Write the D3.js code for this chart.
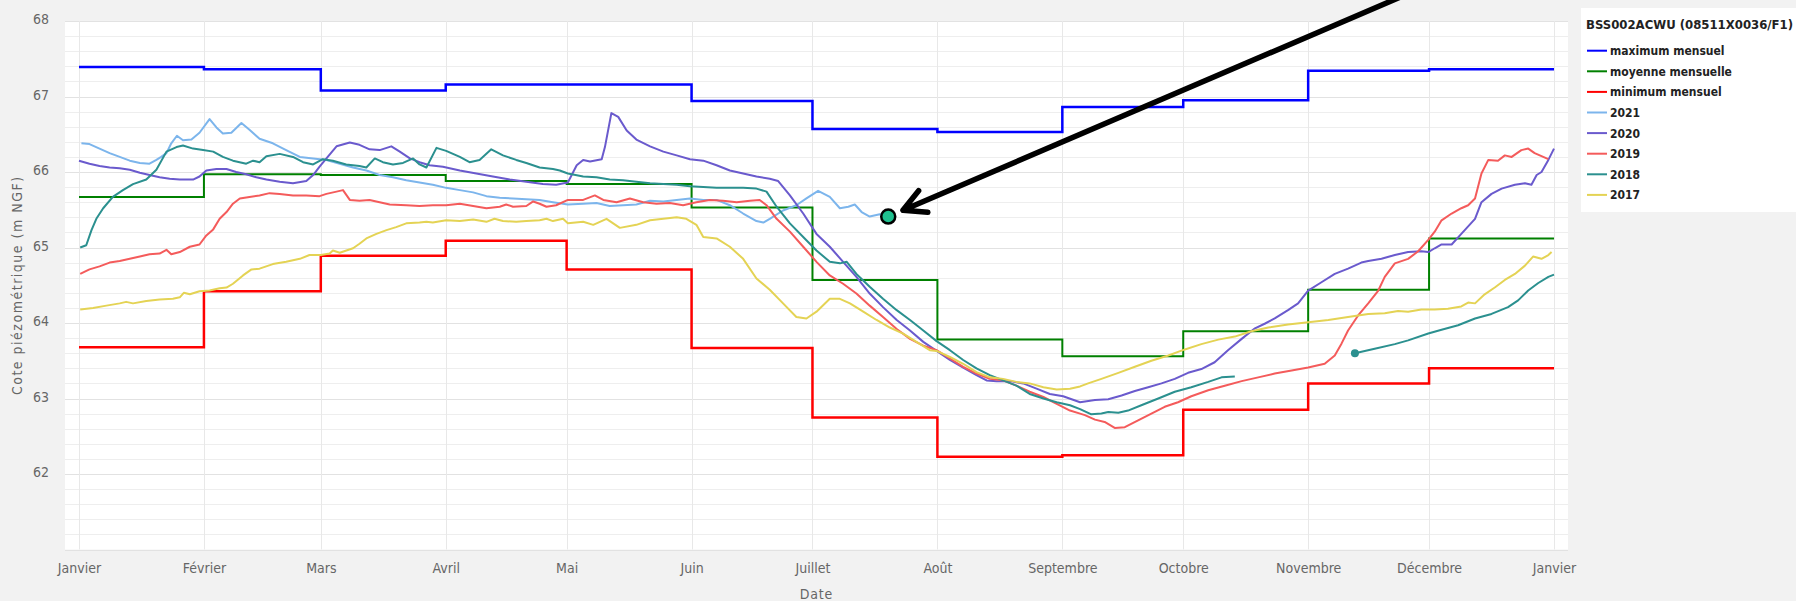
<!DOCTYPE html>
<html>
<head>
<meta charset="utf-8">
<script src="https://cdn.jsdelivr.net/npm/d3@7"></script>
<style>
  body { margin: 0; background: #f2f2f2; }
  svg { display: block; }
  .lbl { font-family: "Liberation Sans Narrow", "DejaVu Sans Condensed", sans-serif; font-size: 14px; fill: #666; }
  .leg { font-family: "DejaVu Sans Condensed", "DejaVu Sans", sans-serif; font-weight: bold; fill: #222; }
</style>
</head>
<body>
<svg id="chart" width="1796" height="601"></svg>
<script>
// month ticks (day of year, leap year)
const monthLabels = ["Janvier","Février","Mars","Avril","Mai","Juin","Juillet","Août","Septembre","Octobre","Novembre","Décembre","Janvier"];
const monthStarts = [0,31,60,91,121,152,182,213,244,274,305,335,366];
const yTicks = [62,63,64,65,66,67,68];

// monthly statistics, one value per month
const maxMensuel  = [67.39,67.36,67.08,67.16,67.16,66.94,66.57,66.53,66.86,66.95,67.34,67.36];
const moyMensuelle = [65.67,65.97,65.96,65.88,65.84,65.53,64.57,63.78,63.56,63.89,64.44,65.12];
const minMensuel  = [63.68,64.42,64.89,65.09,64.71,63.67,62.75,62.23,62.25,62.85,63.20,63.40];

// daily curves: [day of year, level]
const s2021 = [[0.6,66.38],[2.6,66.37],[5.1,66.31],[7.6,66.25],[10.1,66.20],[12.6,66.15],[15.1,66.12],[17.5,66.11],[19.2,66.16],[20.4,66.20],[21.7,66.25],[22.9,66.38],[24.3,66.48],[25.8,66.42],[27.9,66.43],[29.9,66.52],[32.4,66.70],[34.1,66.59],[35.7,66.51],[37.8,66.52],[40.3,66.65],[42.3,66.56],[44.8,66.44],[48.1,66.38],[51.4,66.29],[54.8,66.20],[58.1,66.18],[61.4,66.16],[64.7,66.11],[68.0,66.06],[71.3,66.02],[74.6,65.96],[77.9,65.93],[81.2,65.89],[84.5,65.86],[87.8,65.83],[91.1,65.79],[94.5,65.76],[97.8,65.73],[101.1,65.68],[104.4,65.66],[107.7,65.65],[111.0,65.64],[114.3,65.63],[117.6,65.60],[121.3,65.57],[125.1,65.58],[128.4,65.59],[131.7,65.55],[135.0,65.56],[138.3,65.57],[141.7,65.62],[145.0,65.61],[148.3,65.63],[151.6,65.65],[154.9,65.63],[158.2,65.63],[161.5,65.56],[164.8,65.45],[168.1,65.35],[169.8,65.33],[171.4,65.38],[174.7,65.49],[178.0,65.56],[180.5,65.65],[183.4,65.75],[186.3,65.67],[188.8,65.52],[190.9,65.54],[192.5,65.57],[194.2,65.47],[196.2,65.41],[198.7,65.44],[200.8,65.41]];

const s2020 = [[0,66.15],[2.6,66.11],[5.1,66.08],[7.6,66.06],[10.1,66.05],[12.6,66.03],[15.1,65.99],[17.5,65.96],[20.0,65.93],[22.5,65.91],[25.0,65.90],[28.3,65.90],[29.9,65.94],[31.6,66.02],[34.1,66.04],[36.6,66.04],[39.0,66.00],[41.5,65.97],[44.0,65.93],[46.5,65.90],[49.8,65.87],[53.1,65.85],[56.4,65.88],[58.1,65.96],[59.7,66.07],[61.4,66.18],[63.9,66.34],[67.2,66.39],[69.6,66.36],[72.1,66.30],[74.6,66.29],[77.5,66.34],[79.6,66.27],[82.1,66.18],[84.5,66.13],[87.0,66.09],[90.3,66.07],[94.5,66.02],[98.6,65.98],[102.7,65.94],[106.9,65.90],[111.0,65.87],[115.1,65.84],[118.4,65.83],[121.3,65.86],[123.5,66.09],[125.1,66.16],[126.8,66.14],[129.7,66.17],[130.5,66.33],[132.1,66.78],[133.8,66.73],[135.9,66.55],[138.3,66.43],[141.7,66.34],[145.0,66.27],[148.3,66.22],[151.6,66.17],[154.9,66.15],[158.2,66.09],[161.5,66.02],[164.8,65.98],[168.1,65.94],[171.4,65.91],[173.5,65.88],[176.4,65.69],[179.7,65.45],[183.0,65.18],[186.3,65.01],[189.6,64.81],[192.9,64.61],[196.2,64.39],[199.5,64.21],[202.9,64.04],[206.2,63.90],[209.5,63.75],[212.8,63.63],[216.1,63.51],[219.4,63.41],[222.7,63.31],[225.2,63.24],[227.7,63.23],[231.0,63.23],[234.3,63.20],[237.6,63.13],[240.9,63.06],[244.2,63.03],[248.4,62.95],[252.1,62.98],[255.4,62.99],[258.7,63.04],[262.0,63.10],[265.3,63.15],[268.6,63.20],[271.9,63.26],[275.2,63.34],[278.5,63.39],[281.8,63.48],[285.1,63.64],[288.5,63.79],[291.8,63.93],[294.2,63.99],[296.7,64.06],[300.0,64.17],[302.5,64.26],[305.0,64.43],[308.3,64.54],[311.6,64.65],[314.9,64.72],[318.2,64.80],[319.9,64.82],[323.2,64.85],[326.5,64.90],[329.8,64.94],[333.1,64.95],[334.8,64.94],[336.4,64.99],[338.1,65.04],[340.6,65.04],[343.0,65.18],[346.4,65.38],[348.0,65.60],[350.5,65.71],[353.0,65.78],[356.3,65.83],[358.8,65.85],[360.4,65.83],[361.7,65.96],[362.9,66.00],[364.6,66.16],[366.0,66.31]];

const s2019 = [[0.3,64.65],[2.6,64.71],[5.1,64.75],[7.6,64.80],[10.1,64.82],[12.6,64.85],[15.1,64.88],[17.5,64.91],[20.0,64.92],[21.7,64.97],[22.9,64.91],[25.0,64.94],[27.5,65.01],[29.9,65.04],[31.6,65.16],[33.3,65.24],[34.9,65.38],[36.6,65.47],[38.2,65.58],[39.9,65.65],[42.3,65.67],[44.8,65.69],[47.3,65.72],[49.8,65.71],[53.1,65.69],[56.4,65.69],[59.7,65.68],[61.4,65.71],[63.9,65.74],[65.5,65.76],[67.2,65.63],[69.6,65.62],[72.1,65.63],[74.6,65.60],[77.1,65.57],[81.2,65.56],[84.5,65.55],[87.8,65.56],[91.1,65.56],[94.5,65.58],[97.8,65.55],[101.1,65.52],[104.4,65.54],[106.0,65.57],[107.7,65.54],[111.0,65.55],[112.7,65.61],[114.3,65.58],[116.0,65.54],[118.4,65.56],[121.3,65.63],[125.1,65.63],[128.0,65.69],[130.1,65.63],[133.4,65.60],[136.7,65.65],[140.0,65.60],[143.3,65.58],[146.6,65.59],[149.9,65.56],[153.2,65.60],[156.5,65.63],[159.8,65.62],[163.2,65.60],[166.5,65.62],[168.9,65.63],[170.6,65.56],[173.1,65.38],[176.4,65.21],[179.7,65.01],[183.0,64.81],[186.3,64.63],[189.6,64.52],[192.9,64.39],[196.2,64.23],[199.5,64.08],[202.9,63.92],[206.2,63.79],[209.5,63.70],[212.8,63.64],[216.1,63.53],[219.4,63.42],[222.7,63.33],[226.0,63.26],[229.3,63.24],[232.6,63.17],[235.9,63.09],[239.3,63.02],[242.6,62.93],[245.9,62.84],[248.4,62.80],[249.6,62.78],[252.1,62.72],[254.5,62.69],[257.0,62.61],[259.5,62.62],[262.8,62.71],[266.1,62.80],[269.4,62.89],[272.7,62.95],[276.0,63.03],[280.2,63.11],[284.3,63.17],[288.5,63.23],[292.6,63.28],[296.7,63.33],[300.9,63.37],[305.0,63.41],[309.1,63.46],[311.6,63.57],[313.3,63.73],[314.9,63.90],[317.4,64.10],[319.9,64.26],[322.4,64.43],[324.0,64.61],[326.5,64.79],[329.8,64.85],[332.3,64.95],[334.8,65.10],[336.4,65.21],[338.1,65.36],[340.6,65.45],[343.0,65.52],[344.7,65.56],[346.4,65.65],[348.0,65.98],[349.7,66.16],[352.1,66.15],[353.8,66.22],[355.5,66.20],[357.9,66.29],[359.6,66.31],[361.2,66.25],[362.9,66.21],[364.6,66.17]];

// null marks the gap in the record
const s2018 = [[0.3,65.00],[1.8,65.03],[3.1,65.23],[4.3,65.38],[6.0,65.52],[8.4,65.67],[10.9,65.76],[13.4,65.84],[16.7,65.90],[19.2,66.03],[21.7,66.27],[24.2,66.33],[25.8,66.35],[28.3,66.31],[30.8,66.29],[33.3,66.27],[35.7,66.20],[38.2,66.15],[41.5,66.11],[43.2,66.15],[44.8,66.13],[46.5,66.21],[49.8,66.24],[53.1,66.20],[55.6,66.13],[58.1,66.10],[60.5,66.17],[63.0,66.15],[66.3,66.10],[69.6,66.08],[71.3,66.06],[73.4,66.18],[75.4,66.13],[77.9,66.10],[80.4,66.12],[82.9,66.18],[84.5,66.10],[86.2,66.06],[88.7,66.32],[91.1,66.28],[94.5,66.20],[96.9,66.13],[99.4,66.16],[102.3,66.30],[105.2,66.22],[108.5,66.16],[111.0,66.12],[114.3,66.06],[117.6,66.04],[119.3,66.02],[121.3,65.98],[125.1,65.94],[128.4,65.93],[131.7,65.90],[135.0,65.89],[138.3,65.87],[141.7,65.85],[145.0,65.84],[148.3,65.83],[151.6,65.81],[154.9,65.80],[158.2,65.79],[161.5,65.79],[164.8,65.79],[168.1,65.78],[170.6,65.74],[173.1,65.54],[176.4,65.32],[179.7,65.14],[183.0,64.96],[186.3,64.81],[188.8,64.79],[190.5,64.81],[192.9,64.65],[196.2,64.48],[199.5,64.32],[202.9,64.17],[206.2,64.04],[209.5,63.90],[212.8,63.76],[216.1,63.64],[219.4,63.51],[222.7,63.40],[226.0,63.31],[229.3,63.24],[232.6,63.17],[235.9,63.06],[239.3,63.00],[242.6,62.95],[245.9,62.91],[248.4,62.86],[251.2,62.79],[253.7,62.80],[255.4,62.82],[257.9,62.81],[260.3,62.84],[263.6,62.91],[267.8,63.00],[271.9,63.09],[276.0,63.15],[280.2,63.22],[283.5,63.28],[286.8,63.29],[300,null],[316.6,63.60],[321.5,63.66],[326.5,63.72],[329.8,63.77],[334.8,63.86],[338.1,63.91],[342.2,63.97],[346.4,64.06],[350.5,64.12],[354.6,64.21],[357.1,64.30],[359.6,64.43],[362.1,64.53],[364.6,64.61],[366.0,64.64]];

const s2017 = [[0.3,64.18],[3.5,64.20],[6.8,64.23],[10.1,64.26],[11.7,64.28],[13.4,64.26],[16.7,64.29],[20.0,64.31],[23.3,64.32],[25.0,64.34],[26.0,64.40],[27.5,64.38],[29.9,64.42],[32.4,64.43],[34.9,64.46],[36.6,64.47],[38.2,64.52],[40.7,64.63],[42.8,64.71],[44.8,64.72],[48.1,64.78],[51.4,64.81],[54.8,64.85],[57.2,64.90],[60.0,64.90],[62.2,64.92],[63.0,64.96],[64.7,64.93],[68.0,64.99],[69.6,65.05],[71.3,65.12],[73.8,65.18],[76.3,65.23],[78.7,65.27],[81.2,65.32],[84.5,65.33],[86.2,65.34],[87.8,65.33],[91.1,65.36],[94.5,65.35],[97.8,65.37],[101.1,65.34],[103.1,65.38],[105.2,65.35],[108.5,65.34],[111.0,65.35],[114.3,65.36],[116.0,65.38],[117.6,65.35],[120.1,65.38],[121.3,65.32],[125.1,65.34],[127.6,65.30],[130.9,65.38],[134.2,65.26],[138.3,65.30],[141.7,65.36],[145.0,65.38],[148.3,65.40],[150.7,65.38],[153.2,65.30],[154.9,65.14],[158.2,65.12],[161.5,65.01],[164.8,64.85],[168.1,64.59],[171.4,64.44],[174.7,64.26],[178.0,64.08],[180.5,64.06],[183.0,64.15],[186.3,64.32],[188.8,64.32],[191.3,64.26],[194.6,64.15],[197.9,64.04],[201.2,63.94],[204.5,63.86],[207.8,63.75],[211.1,63.64],[212.8,63.63],[216.1,63.55],[219.4,63.46],[222.7,63.35],[226.0,63.28],[229.3,63.26],[232.6,63.22],[235.9,63.20],[239.3,63.15],[242.6,63.12],[245.9,63.13],[248.4,63.16],[250.4,63.20],[253.7,63.26],[257.9,63.34],[262.0,63.42],[266.1,63.50],[270.3,63.57],[274.4,63.65],[278.5,63.72],[282.7,63.78],[286.8,63.82],[290.9,63.89],[295.1,63.94],[300.0,63.98],[305.0,64.01],[310.0,64.04],[314.9,64.08],[319.9,64.12],[324.0,64.13],[327.3,64.16],[329.8,64.15],[333.1,64.18],[336.4,64.18],[339.7,64.19],[343.0,64.22],[344.7,64.27],[346.4,64.26],[348.8,64.38],[351.3,64.47],[353.8,64.57],[356.3,64.65],[358.8,64.76],[360.8,64.88],[362.9,64.85],[364.6,64.90],[365.4,64.94]];

const stationName = "BSS002ACWU (08511X0036/F1)";
const seriesNames = ["maximum mensuel","moyenne mensuelle","minimum mensuel","2021","2020","2019","2018","2017"];
const seriesColors = ["#0000ff","#008000","#ff0000","#7cb5ec","#6a5acd","#f45b5b","#2b908f","#e4d354"];

const svg = d3.select('#chart');
const plot = {left: 65, right: 1568, top: 21, bottom: 549.5};

const xScale = d3.scaleLinear().domain([0,366]).range([79,1554]);
const yScale = d3.scaleLinear().domain([61,68]).range([plot.bottom, plot.top]);

svg.append('rect')
    .attr('x',plot.left).attr('y',plot.top)
    .attr('width',plot.right-plot.left).attr('height',plot.bottom-plot.top)
    .attr('fill','#fff');

// grid
const minorTicks = d3.range(61,68.01,0.2);
svg.append('g').selectAll('line')
    .data(minorTicks)
    .enter().append('line')
    .attr('x1',plot.left).attr('x2',plot.right)
    .attr('y1',d=>Math.round(yScale(d))+0.5).attr('y2',d=>Math.round(yScale(d))+0.5)
    .attr('stroke',(d)=>Math.abs(d-Math.round(d))<0.01 ? '#e2e2e2' : '#eeeeee');

svg.append('g').selectAll('line')
    .data(monthStarts)
    .enter().append('line')
    .attr('x1',d=>Math.round(xScale(d))+0.5).attr('x2',d=>Math.round(xScale(d))+0.5)
    .attr('y1',plot.top).attr('y2',plot.bottom)
    .attr('stroke','#e8e8e8');

// axes
const xAxis = d3.axisBottom(xScale)
    .tickValues(monthStarts)
    .tickFormat((d,i)=>monthLabels[i])
    .tickSize(0);
const gx = svg.append('g')
    .attr('transform','translate(0,'+plot.bottom+')')
    .call(xAxis);
gx.select('.domain').remove();
gx.selectAll('text').attr('class','lbl').attr('y',23).attr('dy',0)
    .style('font-family',null).style('font-size',null).attr('fill',null).attr('font-size',null).attr('font-family',null);

const yAxis = d3.axisLeft(yScale).tickValues(yTicks).tickFormat(d3.format('d')).tickSize(0);
const gy = svg.append('g')
    .attr('transform','translate(49,0)')
    .call(yAxis);
gy.select('.domain').remove();
gy.selectAll('text').attr('class','lbl').attr('x',0).attr('dy',0).attr('y',2.5)
    .attr('fill',null).attr('font-size',null).attr('font-family',null);
gy.attr('font-size',null).attr('font-family',null);
gx.attr('font-size',null).attr('font-family',null);

svg.append('text')
    .attr('class','lbl')
    .attr('transform','translate(22,'+((plot.top+plot.bottom)/2)+') rotate(-90)')
    .attr('text-anchor','middle')
    .style('letter-spacing','1.5px')
    .text('Cote piézométrique (m NGF)');

svg.append('text')
    .attr('class','lbl')
    .attr('x',(plot.left+plot.right)/2)
    .attr('y',599)
    .attr('text-anchor','middle')
    .style('letter-spacing','0.8px')
    .text('Date');

// series
const stepLine = d3.line().x(d=>xScale(d[0])).y(d=>yScale(d[1])).curve(d3.curveStepAfter);
function monthly(vals){
    const pts = vals.map((v,i)=>[monthStarts[i],v]);
    pts.push([monthStarts[12], vals[11]]);
    return pts;
}
const dayLine = d3.line()
    .defined(d=>d[1]!==null)
    .x(d=>xScale(d[0])).y(d=>yScale(d[1]));

const stepSeries = [maxMensuel, moyMensuelle, minMensuel];
const stepWidths = [2.5, 2, 2.5];
stepSeries.forEach((s,i)=>{
    svg.append('path')
        .attr('d',stepLine(monthly(s)))
        .attr('fill','none')
        .attr('stroke',seriesColors[i])
        .attr('stroke-width',stepWidths[i]);
});

const daily = [s2021, s2020, s2019, s2018, s2017];
daily.forEach((s,i)=>{
    svg.append('path')
        .attr('d',dayLine(s))
        .attr('fill','none')
        .attr('stroke',seriesColors[i+3])
        .attr('stroke-width',2)
        .attr('stroke-linejoin','round');
});

// marker at the start of a segment after a gap
s2018.forEach((d,i)=>{
    if(i>0 && s2018[i-1][1]===null){
        svg.append('circle')
            .attr('cx',xScale(d[0])).attr('cy',yScale(d[1]))
            .attr('r',4).attr('fill',seriesColors[6]);
    }
});

// legend
svg.append('rect').attr('x',1581).attr('y',8).attr('width',230).attr('height',204).attr('fill','#fff');
svg.append('text').attr('class','leg').attr('x',1586).attr('y',29).style('font-size','13px').text(stationName);
const legend = svg.append('g').selectAll('g')
    .data(seriesNames)
    .enter().append('g')
    .attr('transform',(d,i)=>'translate(0,'+(50.7+i*20.6)+')');
legend.append('line')
    .attr('x1',1587).attr('x2',1607).attr('y1',0).attr('y2',0)
    .attr('stroke',(d,i)=>seriesColors[i]).attr('stroke-width',2);
legend.append('text')
    .attr('class','leg')
    .attr('x',1610).attr('y',4.5)
    .style('font-size','12px')
    .text(d=>d);

// annotation: last 2021 value with an arrow
const last = s2021[s2021.length-1];
const cx = xScale(last[0]), cy = yScale(last[1]);
const ang = -23.2*Math.PI/180;
const ux = Math.cos(ang), uy = Math.sin(ang);
const tip = [cx+16*ux, cy+16*uy];
const tail = [tip[0]+580*ux, tip[1]+580*uy];
const arm = 25, spread = 28*Math.PI/180;
const a1 = [tip[0]+arm*Math.cos(ang-spread), tip[1]+arm*Math.sin(ang-spread)];
const a2 = [tip[0]+arm*Math.cos(ang+spread), tip[1]+arm*Math.sin(ang+spread)];
svg.append('path')
    .attr('d','M'+tail+'L'+tip+'M'+a1+'L'+tip+'L'+a2)
    .attr('fill','none').attr('stroke','#000').attr('stroke-width',5.5)
    .attr('stroke-linecap','round').attr('stroke-linejoin','round');
svg.append('circle')
    .attr('cx',cx).attr('cy',cy).attr('r',7)
    .attr('fill','#1fc08f').attr('stroke','#000').attr('stroke-width',2.5);
</script>
</body>
</html>
